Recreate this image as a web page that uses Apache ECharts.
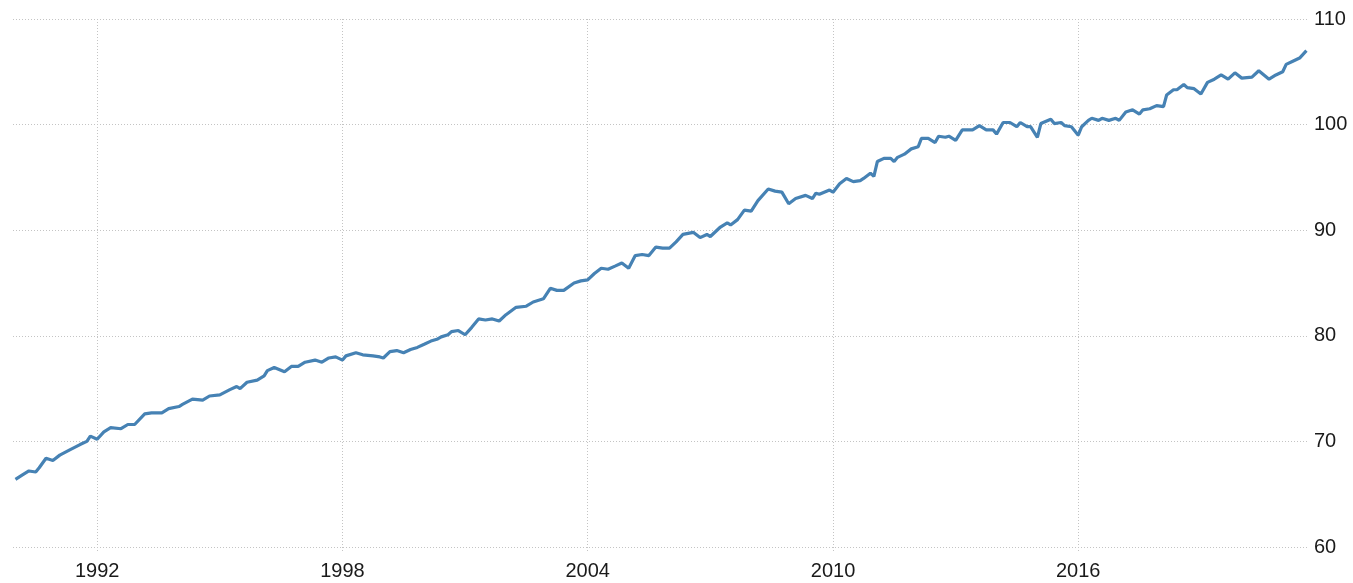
<!DOCTYPE html>
<html>
<head>
<meta charset="utf-8">
<title>Index</title>
<script src="https://cdn.jsdelivr.net/npm/echarts@6/dist/echarts.min.js"></script>
<style>
  html, body { margin: 0; padding: 0; background: #fff; }
  #chart { width: 1353px; height: 583px; }
</style>
</head>
<body>
<div id="chart"></div>
<script>
// dates (roughly every other month)
const dates = [
  "1990-01", "1990-03", "1990-05", "1990-07", "1990-08", "1990-10", "1990-12",
  "1991-02", "1991-05", "1991-08", "1991-10", "1991-11",
  "1992-01", "1992-03", "1992-05", "1992-08", "1992-10", "1992-12",
  "1993-03", "1993-05", "1993-08", "1993-10",
  "1994-01", "1994-02", "1994-05", "1994-08", "1994-10",
  "1995-01", "1995-04", "1995-06", "1995-07", "1995-09", "1995-12",
  "1996-02", "1996-03", "1996-05", "1996-08", "1996-10", "1996-12",
  "1997-02", "1997-05", "1997-07", "1997-09", "1997-11",
  "1998-01", "1998-02", "1998-05", "1998-07", "1998-10", "1998-12",
  "1999-01", "1999-03", "1999-05", "1999-07", "1999-09", "1999-11",
  "2000-01", "2000-03", "2000-05", "2000-06", "2000-08", "2000-09", "2000-11",
  "2001-01", "2001-03", "2001-05", "2001-07", "2001-09", "2001-11",
  "2002-01", "2002-04", "2002-07", "2002-09", "2002-12",
  "2003-02", "2003-04", "2003-06", "2003-09", "2003-11",
  "2004-01", "2004-03", "2004-05", "2004-07", "2004-09", "2004-11",
  "2005-01", "2005-03", "2005-05", "2005-07", "2005-09", "2005-11",
  "2006-01", "2006-03", "2006-05", "2006-08", "2006-10", "2006-12",
  "2007-01", "2007-04", "2007-06", "2007-07", "2007-09", "2007-11",
  "2008-01", "2008-03", "2008-06", "2008-08", "2008-10", "2008-12",
  "2009-02", "2009-05", "2009-07", "2009-08", "2009-09", "2009-12",
  "2010-01", "2010-03", "2010-05", "2010-07", "2010-09", "2010-10", "2010-12",
  "2011-01", "2011-02", "2011-04", "2011-06", "2011-07", "2011-08", "2011-10", "2011-12",
  "2012-02", "2012-03", "2012-05", "2012-07", "2012-08", "2012-10", "2012-11",
  "2013-01", "2013-03", "2013-05", "2013-06", "2013-08", "2013-10", "2013-12",
  "2014-01", "2014-03", "2014-05", "2014-07", "2014-08", "2014-10", "2014-11",
  "2015-01", "2015-02", "2015-05", "2015-06", "2015-08", "2015-09", "2015-11",
  "2016-01", "2016-02", "2016-04", "2016-05", "2016-07", "2016-08", "2016-10", "2016-12",
  "2017-01", "2017-03", "2017-05", "2017-07", "2017-08", "2017-10", "2017-12",
  "2018-02", "2018-03", "2018-05", "2018-06", "2018-08", "2018-09", "2018-11",
  "2019-01", "2019-03", "2019-05", "2019-07", "2019-09", "2019-11",
  "2020-01", "2020-04", "2020-06", "2020-09", "2020-11",
  "2021-01", "2021-02", "2021-04", "2021-06", "2021-08"
];

const values = [
  66.4, 66.8, 67.2, 67.1, 67.5, 68.4, 68.2,
  68.7, 69.2, 69.7, 70.0, 70.5,
  70.2, 70.9, 71.3, 71.2, 71.6, 71.6,
  72.6, 72.7, 72.7, 73.1,
  73.3, 73.5, 74.0, 73.9, 74.3,
  74.4, 74.9, 75.2, 75.0, 75.6, 75.8,
  76.2, 76.7, 77.0, 76.6, 77.1, 77.1,
  77.5, 77.7, 77.5, 77.9, 78.0,
  77.7, 78.1, 78.4, 78.2, 78.1, 78.0,
  77.9, 78.5, 78.6, 78.4, 78.7, 78.9,
  79.2, 79.5, 79.7, 79.9, 80.1, 80.4, 80.5,
  80.1, 80.8, 81.6, 81.5, 81.6, 81.4,
  82.0, 82.7, 82.8, 83.2, 83.5,
  84.5, 84.3, 84.3, 85.0, 85.2,
  85.3, 85.9, 86.4, 86.3, 86.6, 86.9,
  86.4, 87.6, 87.7, 87.6, 88.4, 88.3,
  88.3, 88.9, 89.6, 89.8, 89.3, 89.6,
  89.4, 90.3, 90.7, 90.5, 91.0, 91.9,
  91.8, 92.8, 93.9, 93.7, 93.6, 92.5,
  93.0, 93.3, 93.0, 93.5, 93.4, 93.8,
  93.6, 94.4, 94.9, 94.6, 94.7, 94.9, 95.4,
  95.1, 96.5, 96.8, 96.8, 96.5, 96.9, 97.2, 97.7,
  97.9, 98.7, 98.7, 98.3, 98.9, 98.8, 98.9,
  98.5, 99.5, 99.5, 99.5, 99.9, 99.5, 99.5,
  99.1, 100.2, 100.2, 99.8, 100.2, 99.8, 99.8,
  98.8, 100.1, 100.5, 100.1, 100.2, 99.9, 99.8,
  99.0, 99.8, 100.4, 100.6, 100.4, 100.6, 100.4, 100.6,
  100.4, 101.2, 101.4, 101.0, 101.4, 101.5, 101.8,
  101.7, 102.8, 103.3, 103.3, 103.8, 103.5, 103.4,
  102.9, 104.0, 104.3, 104.7, 104.3, 104.9,
  104.4, 104.5, 105.1, 104.3, 104.7,
  105.0, 105.7, 106.0, 106.3, 107.0
];

const yearTicks = ["1992-01-01", "1998-01-01", "2004-01-01", "2010-01-01", "2016-01-01"];

const toMs = (d) => Date.parse(d.length === 7 ? d + "-01" : d);
const tickMs = yearTicks.map(toMs);

const chart = echarts.init(document.getElementById("chart"));

const labelFont = {
  color: "#1a1a1a",
  fontSize: 20,
  fontFamily: "Liberation Sans, sans-serif"
};

const gridLine = { color: "#c4c4c4", type: [1, 2], width: 1 };

const option = {
  animation: false,
  grid: { left: 13, right: 45, top: 19, bottom: 36 },
  xAxis: {
    type: "value",
    min: toMs("1989-12-10"),
    max: toMs("2021-08-15"),
    axisLine: { show: false },
    axisTick: {
      show: true,
      customValues: tickMs,
      length: 5,
      lineStyle: gridLine
    },
    axisLabel: {
      customValues: tickMs,
      formatter: (v) => String(new Date(v).getUTCFullYear()),
      margin: 14,
      ...labelFont
    },
    splitLine: { show: true, lineStyle: gridLine }
  },
  yAxis: {
    type: "value",
    position: "right",
    min: 60,
    max: 110,
    interval: 10,
    axisLine: { show: false },
    axisTick: { show: false },
    axisLabel: {
      margin: 6,
      ...labelFont
    },
    splitLine: { show: true, lineStyle: gridLine }
  },
  series: [
    {
      type: "line",
      data: dates.map((d, i) => [toMs(d), values[i]]),
      showSymbol: false,
      lineStyle: { color: "#4682b4", width: 3.2 }
    }
  ]
};

chart.setOption(option);
</script>
</body>
</html>
